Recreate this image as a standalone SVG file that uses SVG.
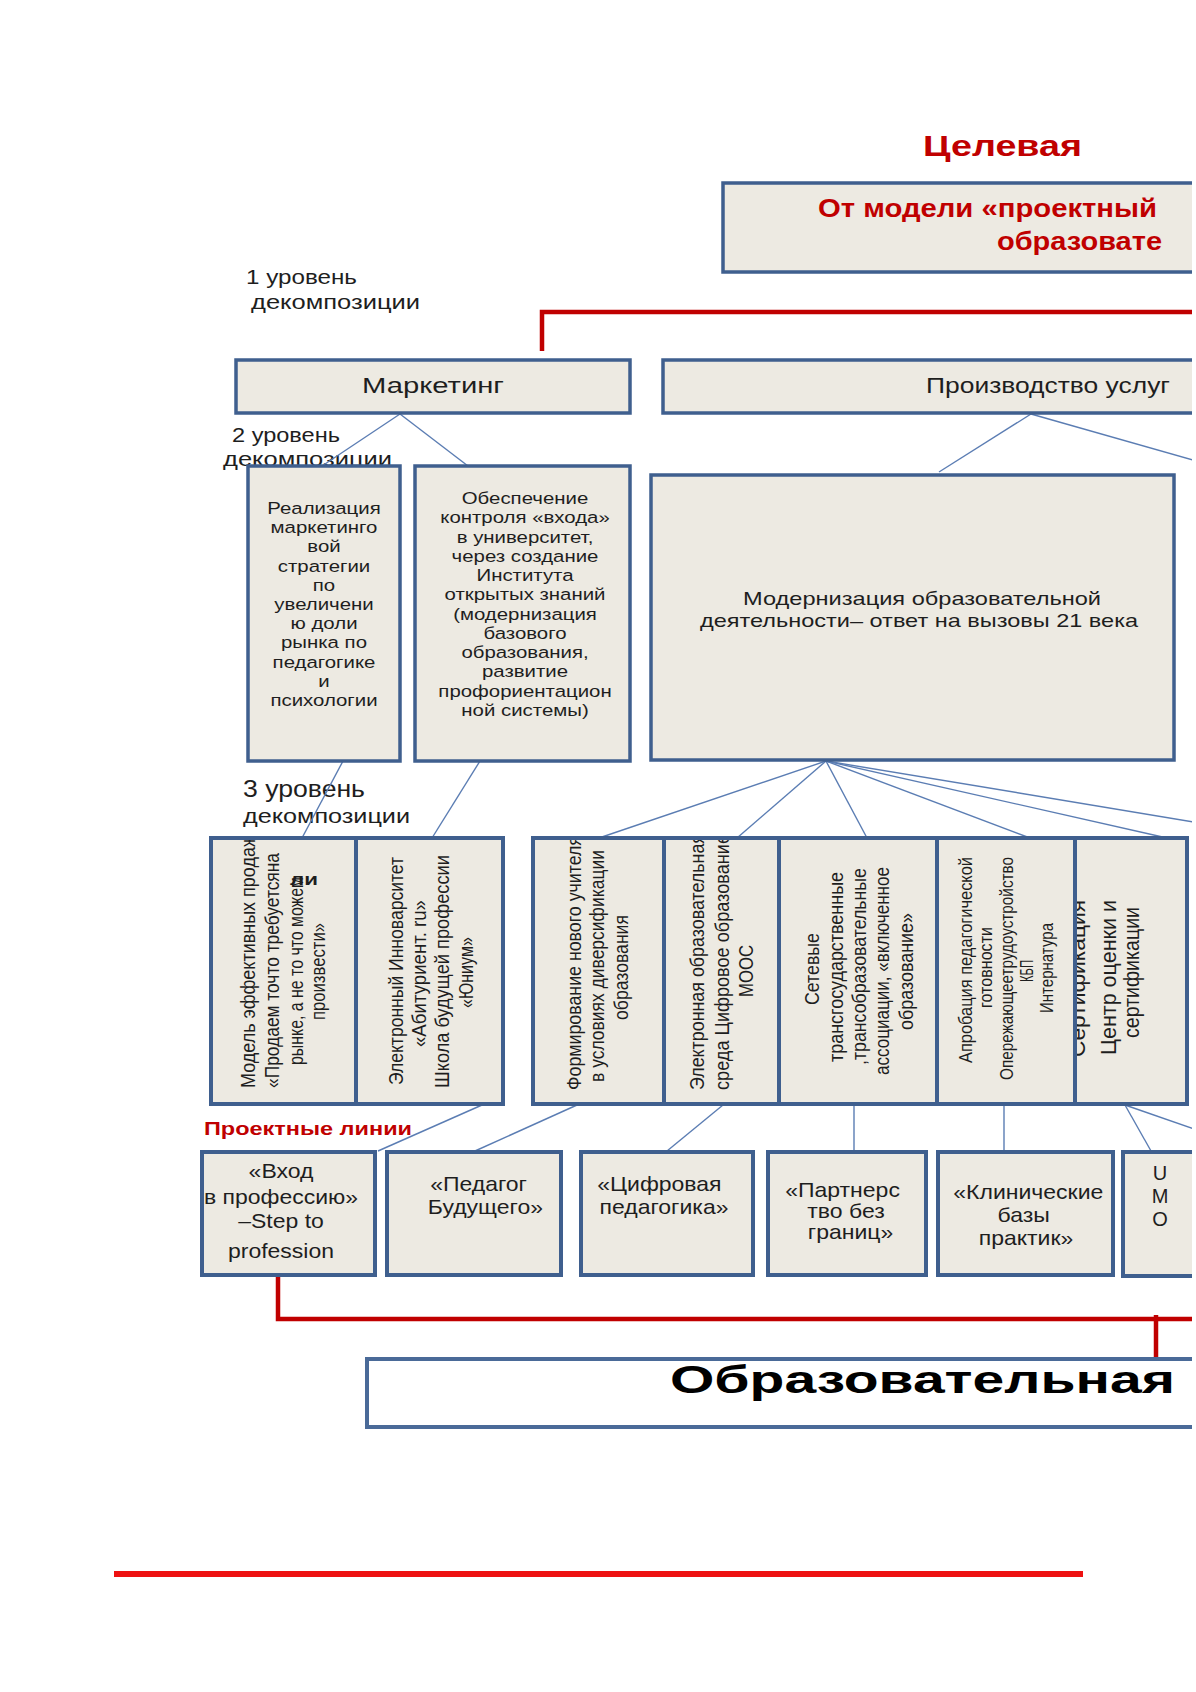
<svg xmlns="http://www.w3.org/2000/svg" width="1196" height="1692" viewBox="0 0 1196 1692">
<style>
text{font-family:"Liberation Sans",Arial,sans-serif;fill:#1e1e1e}
.box{fill:#EDEAE2;stroke:#3F5F8E;stroke-width:3.5}
.box4{fill:#EDEAE2;stroke:#3F5F8E;stroke-width:4}
.wbox{fill:#FFFFFF;stroke:#4A6A98;stroke-width:4}
.ln{stroke:#5B7DB3;stroke-width:1.4;fill:none}
.red{stroke:#C00000;stroke-width:4.5;fill:none}
.redt{fill:#C00000;font-weight:bold}
.lbl{font-size:20px}
.m{text-anchor:middle}
.v16{font-size:16.5px}
.v17{font-size:17.5px}
.v15{font-size:15px}
.v20{font-size:20px}
.b20{font-size:20px}
</style>
<defs>
<clipPath id="page"><rect x="0" y="0" width="1192" height="1692"/></clipPath>
<clipPath id="cA"><rect x="213" y="840" width="141" height="262"/></clipPath>
<clipPath id="cB"><rect x="358" y="840" width="143" height="262"/></clipPath>
<clipPath id="cC"><rect x="535" y="840" width="127" height="262"/></clipPath>
<clipPath id="cD"><rect x="666" y="840" width="111" height="262"/></clipPath>
<clipPath id="cE"><rect x="781" y="840" width="154" height="262"/></clipPath>
<clipPath id="cF"><rect x="939" y="840" width="134" height="262"/></clipPath>
<clipPath id="cG"><rect x="1077" y="840" width="108" height="262"/></clipPath>
</defs>
<rect x="0" y="0" width="1196" height="1692" fill="#FFFFFF"/>
<g clip-path="url(#page)">

<g id="title">
<text class="redt" x="923" y="156" font-size="30" textLength="159" lengthAdjust="spacingAndGlyphs">Целевая</text>
</g>

<g id="goal">
<rect class="box" x="723" y="183" width="520" height="89"/>
<text class="redt" x="818" y="217" font-size="25" textLength="339" lengthAdjust="spacingAndGlyphs">От модели «проектный</text>
<text class="redt" x="997" y="250" font-size="25" textLength="165" lengthAdjust="spacingAndGlyphs">образовате</text>
</g>

<g id="labels">
<text class="lbl" x="246" y="284" textLength="111" lengthAdjust="spacingAndGlyphs">1 уровень</text>
<text class="lbl" x="251" y="309" textLength="169" lengthAdjust="spacingAndGlyphs">декомпозиции</text>
<text class="lbl" x="232" y="442" textLength="108" lengthAdjust="spacingAndGlyphs">2 уровень</text>
<text class="lbl" x="223" y="466" font-size="21" textLength="169" lengthAdjust="spacingAndGlyphs">декомпозиции</text>
<text x="243" y="797" font-size="23" textLength="122" lengthAdjust="spacingAndGlyphs">3 уровень</text>
<text x="243" y="823" font-size="21" textLength="167" lengthAdjust="spacingAndGlyphs">декомпозиции</text>
<text class="redt" x="204" y="1135" font-size="19" textLength="208" lengthAdjust="spacingAndGlyphs">Проектные линии</text>
</g>

<g id="connectors">
<path class="red" d="M542 351 V312 H1200"/>
<path class="red" d="M278 1276 V1319 H1200"/>
<path class="red" d="M1156 1315 V1358"/>
<line class="ln" x1="400" y1="414" x2="322" y2="466"/>
<line class="ln" x1="400" y1="414" x2="468" y2="466"/>
<line class="ln" x1="1031" y1="414" x2="939" y2="472"/>
<line class="ln" x1="1031" y1="414" x2="1200" y2="462"/>
<line class="ln" x1="343" y1="761" x2="302" y2="838"/>
<line class="ln" x1="480" y1="761" x2="432" y2="838"/>
<line class="ln" x1="826" y1="761" x2="599" y2="838"/>
<line class="ln" x1="826" y1="761" x2="737" y2="838"/>
<line class="ln" x1="826" y1="761" x2="867" y2="838"/>
<line class="ln" x1="826" y1="761" x2="1030" y2="838"/>
<line class="ln" x1="826" y1="761" x2="1167" y2="838"/>
<line class="ln" x1="826" y1="761" x2="1200" y2="823"/>
<line class="ln" x1="482" y1="1105" x2="378" y2="1151"/>
<line class="ln" x1="577" y1="1105" x2="475" y2="1151"/>
<line class="ln" x1="723" y1="1105" x2="667" y2="1151"/>
<line class="ln" x1="854" y1="1105" x2="854" y2="1151"/>
<line class="ln" x1="1004" y1="1105" x2="1004" y2="1151"/>
<line class="ln" x1="1125" y1="1105" x2="1151" y2="1151"/>
<line class="ln" x1="1125" y1="1105" x2="1200" y2="1131"/>
</g>

<g id="marketing">
<rect class="box" x="236" y="360" width="394" height="53"/>
<text x="362" y="393" font-size="22" textLength="142" lengthAdjust="spacingAndGlyphs">Маркетинг</text>
</g>

<g id="production">
<rect class="box" x="663" y="360" width="560" height="53"/>
<text x="1170" y="393" font-size="22" text-anchor="end" textLength="244" lengthAdjust="spacingAndGlyphs">Производство услуг</text>
</g>

<g id="l2-strategy">
<rect class="box" x="248" y="466" width="152" height="295"/>
<g transform="translate(324 0) scale(1.2 1)" class="m" font-size="17">
<text x="0" y="514">Реализация</text>
<text x="0" y="533">маркетинго</text>
<text x="0" y="552">вой</text>
<text x="0" y="572">стратегии</text>
<text x="0" y="591">по</text>
<text x="0" y="610">увеличени</text>
<text x="0" y="629">ю доли</text>
<text x="0" y="648">рынка по</text>
<text x="0" y="668">педагогике</text>
<text x="0" y="687">и</text>
<text x="0" y="706">психологии</text>
</g>
</g>

<g id="l2-control">
<rect class="box" x="415" y="466" width="215" height="295"/>
<g transform="translate(525 0) scale(1.2 1)" class="m" font-size="17">
<text x="0" y="504">Обеспечение</text>
<text x="0" y="523">контроля «входа»</text>
<text x="0" y="543">в университет,</text>
<text x="0" y="562">через создание</text>
<text x="0" y="581">Института</text>
<text x="0" y="600">открытых знаний</text>
<text x="0" y="620">(модернизация</text>
<text x="0" y="639">базового</text>
<text x="0" y="658">образования,</text>
<text x="0" y="677">развитие</text>
<text x="0" y="697">профориентацион</text>
<text x="0" y="716">ной системы)</text>
</g>
</g>

<g id="l2-modern">
<rect class="box" x="651" y="475" width="523" height="285"/>
<text x="743" y="605" font-size="19" textLength="358" lengthAdjust="spacingAndGlyphs">Модернизация  образовательной</text>
<text x="700" y="627" font-size="19" textLength="438" lengthAdjust="spacingAndGlyphs">деятельности– ответ на  вызовы 21 века</text>
</g>

<g id="l3-sales">
<rect class="box4" x="211" y="838" width="145" height="266"/>
<g clip-path="url(#cA)" class="v16">
<text transform="translate(255 1088) scale(1.2 1) rotate(-90)" textLength="253" lengthAdjust="spacingAndGlyphs">Модель эффективных продаж</text>
<text transform="translate(279 1088) scale(1.2 1) rotate(-90)" textLength="235" lengthAdjust="spacingAndGlyphs">«Продаем точто требуетсяна</text>
<text transform="translate(303 1065) scale(1.2 1) rotate(-90)" textLength="188" lengthAdjust="spacingAndGlyphs">рынке, а не то что можем</text>
<text transform="translate(325 1020) scale(1.2 1) rotate(-90)" textLength="97" lengthAdjust="spacingAndGlyphs">произвести»</text>
<text x="290" y="885" font-size="17" font-weight="bold" textLength="28" lengthAdjust="spacingAndGlyphs">ли</text>
</g>
</g>

<g id="l3-innovarsitet">
<rect class="box4" x="356" y="838" width="147" height="266"/>
<g clip-path="url(#cB)" class="v16">
<text transform="translate(403 1085) scale(1.2 1) rotate(-90)" textLength="228" lengthAdjust="spacingAndGlyphs">Электронный Инноварситет</text>
<text transform="translate(426 1047) scale(1.2 1) rotate(-90)" textLength="147" lengthAdjust="spacingAndGlyphs">«Абитуриент. ru»</text>
<text transform="translate(449 1088) scale(1.2 1) rotate(-90)" textLength="233" lengthAdjust="spacingAndGlyphs">Школа будущей профессии</text>
<text transform="translate(473 1008) scale(1.2 1) rotate(-90)" textLength="71" lengthAdjust="spacingAndGlyphs">«Юниум»</text>
</g>
</g>

<g id="l3-teacher">
<rect class="box4" x="533" y="838" width="131" height="266"/>
<g clip-path="url(#cC)" class="v17">
<text transform="translate(581 1090) scale(1.2 1) rotate(-90)" textLength="254" lengthAdjust="spacingAndGlyphs">Формирование нового учителя</text>
<text transform="translate(604 1082) scale(1.2 1) rotate(-90)" textLength="232" lengthAdjust="spacingAndGlyphs">в условиях диверсификации</text>
<text transform="translate(628 1020) scale(1.2 1) rotate(-90)" textLength="105" lengthAdjust="spacingAndGlyphs">образования</text>
</g>
</g>

<g id="l3-digital">
<rect class="box4" x="664" y="838" width="115" height="266"/>
<g clip-path="url(#cD)" class="v17">
<text transform="translate(704 1090) scale(1.2 1) rotate(-90)" textLength="256" lengthAdjust="spacingAndGlyphs">Электронная образовательная</text>
<text transform="translate(729 1090) scale(1.2 1) rotate(-90)" textLength="256" lengthAdjust="spacingAndGlyphs">среда  Цифровое образование</text>
<text transform="translate(753 997) scale(1.2 1) rotate(-90)" textLength="52" lengthAdjust="spacingAndGlyphs">МООС</text>
</g>
</g>

<g id="l3-network">
<rect class="box4" x="779" y="838" width="158" height="266"/>
<g clip-path="url(#cE)" class="v17">
<text transform="translate(819 1005) scale(1.2 1) rotate(-90)" textLength="72" lengthAdjust="spacingAndGlyphs">Сетевые</text>
<text transform="translate(843 1062) scale(1.2 1) rotate(-90)" textLength="190" lengthAdjust="spacingAndGlyphs">трансгосударственные</text>
<text transform="translate(866 1065) scale(1.2 1) rotate(-90)" textLength="197" lengthAdjust="spacingAndGlyphs">,трансобразовательные</text>
<text transform="translate(889 1075) scale(1.2 1) rotate(-90)" textLength="208" lengthAdjust="spacingAndGlyphs">ассоциации, «включенное</text>
<text transform="translate(913 1030) scale(1.2 1) rotate(-90)" textLength="117" lengthAdjust="spacingAndGlyphs">образование»</text>
</g>
</g>

<g id="l3-approbation">
<rect class="box4" x="937" y="838" width="138" height="266"/>
<g clip-path="url(#cF)" class="v15">
<text transform="translate(972 1063) scale(1.2 1) rotate(-90)" textLength="206" lengthAdjust="spacingAndGlyphs">Апробация педагогической</text>
<text transform="translate(992 1008) scale(1.2 1) rotate(-90)" textLength="81" lengthAdjust="spacingAndGlyphs">готовности</text>
<text transform="translate(1013 1080) scale(1.2 1) rotate(-90)" textLength="223" lengthAdjust="spacingAndGlyphs">Опережающеетрудоустройство</text>
<text transform="translate(1033 982) scale(1.2 1) rotate(-90)" textLength="22" lengthAdjust="spacingAndGlyphs">КБП</text>
<text transform="translate(1053 1013) scale(1.2 1) rotate(-90)" textLength="90" lengthAdjust="spacingAndGlyphs">Интернатура</text>
</g>
</g>

<g id="l3-certification">
<rect class="box4" x="1075" y="838" width="112" height="266"/>
<g clip-path="url(#cG)" class="v20">
<text transform="translate(1085 1057) scale(1.1 1) rotate(-90)" textLength="157" lengthAdjust="spacingAndGlyphs">Сертификация</text>
<text transform="translate(1116 1055) scale(1.1 1) rotate(-90)" textLength="155" lengthAdjust="spacingAndGlyphs">Центр оценки и</text>
<text transform="translate(1139 1038) scale(1.1 1) rotate(-90)" textLength="131" lengthAdjust="spacingAndGlyphs">сертификации</text>
</g>
</g>

<g id="p-entry">
<rect class="box4" x="202" y="1152" width="173" height="123"/>
<g transform="translate(281 0) scale(1.15 1)" class="m b20">
<text x="0" y="1178">«Вход</text>
<text x="0" y="1204">в профессию»</text>
<text x="0" y="1228">–Step  to</text>
<text x="0" y="1258">profession</text>
</g>
</g>

<g id="p-teacher">
<rect class="box4" x="387" y="1152" width="174" height="123"/>
<g transform="translate(482 0) scale(1.15 1)" class="m b20">
<text x="-3" y="1191">«Педагог</text>
<text x="3" y="1214">Будущего»</text>
</g>
</g>

<g id="p-digital">
<rect class="box4" x="581" y="1152" width="172" height="123"/>
<g transform="translate(664 0) scale(1.15 1)" class="m b20">
<text x="-4" y="1191">«Цифровая</text>
<text x="0" y="1214">педагогика»</text>
</g>
</g>

<g id="p-partner">
<rect class="box4" x="768" y="1152" width="158" height="123"/>
<g transform="translate(846 0) scale(1.15 1)" class="m b20">
<text x="-3" y="1197">«Партнерс</text>
<text x="0" y="1218">тво без</text>
<text x="4" y="1239">границ»</text>
</g>
</g>

<g id="p-clinic">
<rect class="box4" x="938" y="1152" width="175" height="123"/>
<g transform="translate(1026 0) scale(1.15 1)" class="m b20">
<text x="2" y="1199">«Клинические</text>
<text x="-2" y="1222">базы</text>
<text x="0" y="1245">практик»</text>
</g>
</g>

<g id="p-umo">
<rect class="box4" x="1123" y="1152" width="120" height="124"/>
<g class="m b20">
<text x="1160" y="1180">U</text>
<text x="1160" y="1203">M</text>
<text x="1160" y="1226">O</text>
</g>
</g>

<g id="edu-env">
<rect class="wbox" x="367" y="1359" width="880" height="68"/>
<text x="670" y="1393" font-size="39" font-weight="bold" style="fill:#000" textLength="505" lengthAdjust="spacingAndGlyphs">Образовательная</text>
</g>

</g>
<line x1="114" y1="1574" x2="1083" y2="1574" stroke="#EE1111" stroke-width="6"/>
</svg>
